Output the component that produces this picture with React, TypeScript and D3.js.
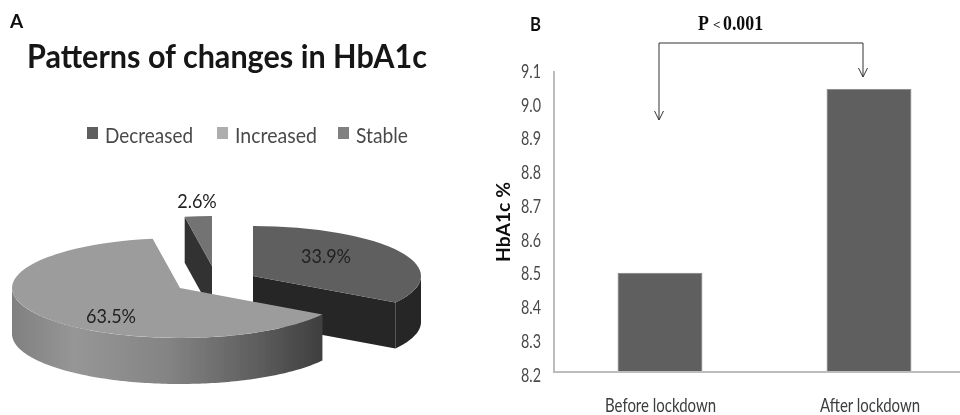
import * as d3 from 'd3'

const pieLabels = ['Decreased', 'Increased', 'Stable']
const pieValues = [33.9, 63.5, 2.6]
const barCategories = ['Before lockdown', 'After lockdown']
const barValues = [8.495, 9.045]
const yTicks = [8.2, 8.3, 8.4, 8.5, 8.6, 8.7, 8.8, 8.9, 9.0, 9.1]

const SANS = 'Lato, "Open Sans", sans-serif'
const RX = 168
const RY = 50
const DEPTH = 46

// exploded slice placement and greys, same order as pieLabels
const SLICE_POS = [{ x: 253, y: 276 }, { x: 180, y: 288 }, { x: 212, y: 266 }]
const TOP_FILL = ['#5f5f5f', '#9c9c9c', '#737373']
const SIDE_FILL = ['#262626', 'url(#rimGrad)', '#333333']
const LEGEND_FILL = ['#5f5f5f', '#adadad', '#808080']
const LEGEND_X = [87, 217, 338]
const LEGEND_W = [88, 82, 52]
const LABEL_POS = [{ x: 326, y: 263 }, { x: 111, y: 323 }, { x: 197, y: 208 }]

const rimPoint = (c: { x: number; y: number }, a: number, dy = 0): [number, number] => [
  c.x + Math.sin(a) * RX,
  c.y - Math.cos(a) * RY + dy,
]

function rimWall(c: { x: number; y: number }, a0: number, a1: number) {
  const angles = d3.range(a0, a1, 0.02).concat(a1)
  const top = angles.map(a => rimPoint(c, a))
  const bottom = angles.slice().reverse().map(a => rimPoint(c, a, DEPTH))
  return d3.line()([...top, ...bottom]) + 'Z'
}

function faceWall(c: { x: number; y: number }, a: number) {
  const p = rimPoint(c, a)
  const q = rimPoint(c, a, DEPTH)
  return d3.line()([[c.x, c.y], p, q, [c.x, c.y + DEPTH]]) + 'Z'
}

function PiePanel() {
  const arcs = d3.pie<number>().sort(null)(pieValues)
  const arc = d3.arc<d3.PieArcDatum<number>>().innerRadius(0).outerRadius(RX)
  const dec = arcs[0]
  const inc = arcs[1]
  const sta = arcs[2]

  return (
    <g>
      <defs>
        <linearGradient id="rimGrad" gradientUnits="userSpaceOnUse" x1={12} x2={323} y1={0} y2={0}>
          <stop offset="0" stopColor="#808080" />
          <stop offset="0.2" stopColor="#969696" />
          <stop offset="0.5" stopColor="#848484" />
          <stop offset="0.8" stopColor="#5c5c5c" />
          <stop offset="1" stopColor="#3e3e3e" />
        </linearGradient>
      </defs>

      <text x={10} y={28} fontFamily={SANS} fontWeight={700} fontSize={19} fill="#111">A</text>
      <text x={27} y={68} fontFamily={SANS} fontWeight={700} fontSize={33} fill="#161616"
        textLength={400} lengthAdjust="spacingAndGlyphs">Patterns of changes in HbA1c</text>

      {pieLabels.map((d, i) => (
        <g key={d}>
          <rect x={LEGEND_X[i]} y={127} width={11} height={12} fill={LEGEND_FILL[i]} />
          <text x={LEGEND_X[i] + 18} y={143} fontFamily={SANS} fontSize={21} fill="#4a4a4a"
            textLength={LEGEND_W[i]} lengthAdjust="spacingAndGlyphs">{d}</text>
        </g>
      ))}

      {/* stable first, the big slice has to cover its foot */}
      <path d={faceWall(SLICE_POS[2], sta.startAngle)} fill={SIDE_FILL[2]} />
      <path d={arc(sta)!} transform={`translate(${SLICE_POS[2].x},${SLICE_POS[2].y}) scale(1,${RY / RX})`} fill={TOP_FILL[2]} />

      <path d={faceWall(SLICE_POS[0], dec.endAngle)} fill={SIDE_FILL[0]} />
      <path d={rimWall(SLICE_POS[0], Math.PI / 2, dec.endAngle)} fill={SIDE_FILL[0]} />
      <path d={arc(dec)!} transform={`translate(${SLICE_POS[0].x},${SLICE_POS[0].y}) scale(1,${RY / RX})`} fill={TOP_FILL[0]} />

      <path d={rimWall(SLICE_POS[1], inc.startAngle, Math.PI * 1.5)} fill={SIDE_FILL[1]} />
      <path d={arc(inc)!} transform={`translate(${SLICE_POS[1].x},${SLICE_POS[1].y}) scale(1,${RY / RX})`} fill={TOP_FILL[1]} />

      {pieValues.map((v, i) => (
        <text key={i} transform={`translate(${LABEL_POS[i].x},${LABEL_POS[i].y}) scale(0.9,1)`} textAnchor="middle"
          fontFamily={SANS} fontSize={20} fill="#222">{v.toFixed(1)}%</text>
      ))}
    </g>
  )
}

function BarPanel() {
  const y = d3.scaleLinear().domain([8.2, 9.1]).range([372, 71])
  const x = d3.scaleBand().domain(barCategories).range([555.5, 973.5]).paddingInner(0.6).paddingOuter(0.3)
  const leftX = x(barCategories[0])! + x.bandwidth() / 2 - 1
  const rightX = x(barCategories[1])! + x.bandwidth() / 2 - 6
  const bracketY = 43
  const leftEnd = 120
  const rightEnd = 77
  const serif = 'Liberation Serif, serif'

  return (
    <g>
      <text x={530} y={31} fontFamily={SANS} fontWeight={700} fontSize={19} fill="#111"
        textLength={11} lengthAdjust="spacingAndGlyphs">B</text>
      <text transform="translate(698,30) scale(0.85,1)" fontFamily={serif} fontWeight={700} fontSize={21} fill="#111">P</text>
      <text x={713} y={29} fontFamily={serif} fontWeight={700} fontSize={13} fill="#111">&lt;</text>
      <text transform="translate(723,30) scale(0.85,1)" fontFamily={serif} fontWeight={700} fontSize={21} fill="#111">0.001</text>

      <path d={`M${leftX},${leftEnd}V${bracketY}H${rightX}V${rightEnd}`} fill="none" stroke="#333" strokeWidth={1} />
      <path d={`M${leftX - 4.5},${leftEnd - 9}L${leftX},${leftEnd}L${leftX + 4.5},${leftEnd - 9}`} fill="none" stroke="#333" strokeWidth={1} />
      <path d={`M${rightX - 4.5},${rightEnd - 9}L${rightX},${rightEnd}L${rightX + 4.5},${rightEnd - 9}`} fill="none" stroke="#333" strokeWidth={1} />

      {barCategories.map((c, i) => (
        <rect key={c} x={x(c)} y={y(barValues[i])} width={x.bandwidth()} height={y(8.2) - y(barValues[i])}
          fill="#5e5e5e" stroke="#8c8c8c" strokeWidth={0.8} />
      ))}

      <line x1={554} x2={554} y1={y(9.1)} y2={y(8.2)} stroke="#bcbcbc" strokeWidth={2} />
      <line x1={553} x2={960} y1={y(8.2)} y2={y(8.2)} stroke="#bcbcbc" strokeWidth={2} />

      {yTicks.map(t => (
        <text key={t} x={541} y={y(t) + 7 + (9.1 - t) * 3} textAnchor="end" fontFamily={SANS} fontSize={20}
          fill="#4a4a4a" textLength={20} lengthAdjust="spacingAndGlyphs">{t.toFixed(1)}</text>
      ))}

      {barCategories.map((c, i) => (
        <text key={c} x={i === 0 ? 605 : 820} y={412} fontFamily={SANS} fontSize={19} fill="#3c3c3c"
          textLength={i === 0 ? 111 : 100} lengthAdjust="spacingAndGlyphs">{c}</text>
      ))}

      <text transform="translate(510,222) rotate(-90)" textAnchor="middle" fontFamily={SANS} fontWeight={700}
        fontSize={19} fill="#111" textLength={80} lengthAdjust="spacingAndGlyphs">HbA1c %</text>
    </g>
  )
}

export default function App() {
  return (
    <svg width={960} height={415} viewBox="0 0 960 415"
      style={{ position: 'absolute', left: 0, top: 0, background: '#fff' }}>
      <defs>
        <filter id="soft" x="0" y="0" width="100%" height="100%">
          <feGaussianBlur stdDeviation="0.55" />
        </filter>
      </defs>
      <g filter="url(#soft)">
        <rect width={960} height={415} fill="#fff" />
        <PiePanel />
        <BarPanel />
      </g>
    </svg>
  )
}
